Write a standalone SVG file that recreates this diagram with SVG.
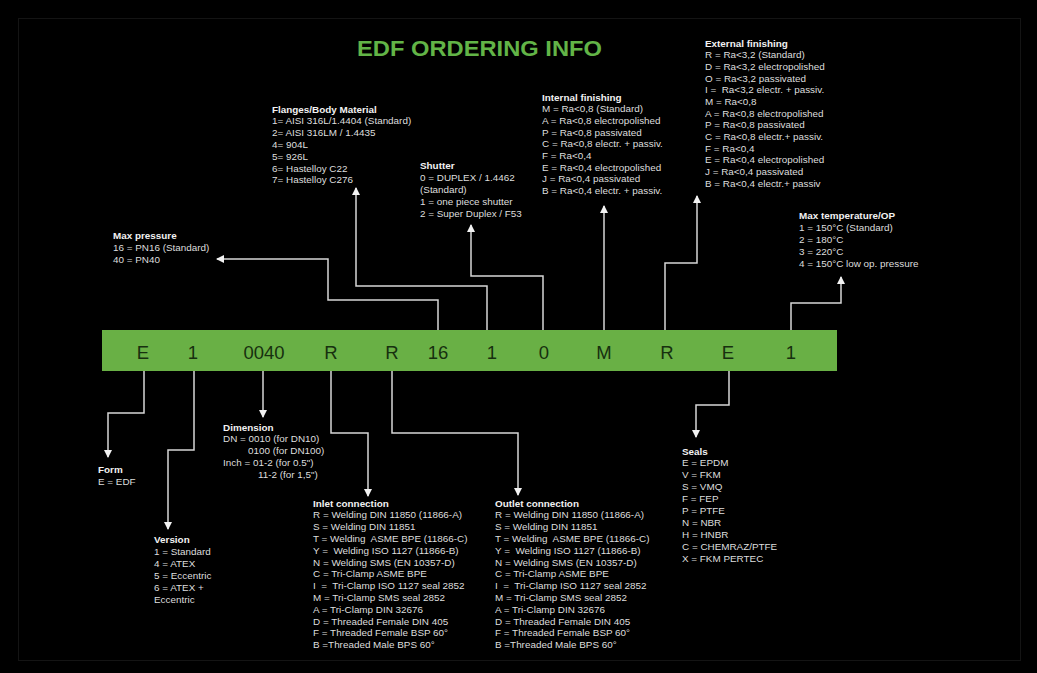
<svg xmlns="http://www.w3.org/2000/svg" width="1037" height="673" viewBox="0 0 1037 673">
  <style>
    .title { font-family: "Liberation Sans", Arial, sans-serif; font-weight: bold; font-size: 22.5px; fill: #62b447; }
    .code { font-family: "Liberation Sans", Arial, sans-serif; font-size: 18.5px; fill: #17300f; text-anchor: middle; }
    .lbl { font-family: "Liberation Sans", Arial, sans-serif; font-size: 9.9px; fill: #dedede; white-space: pre; }
    .lbl .h { font-weight: bold; fill: #f2f2f2; }
    .wire { fill: none; stroke: #d6d6d6; stroke-width: 1.5; }
  </style>
  <defs>
    <marker id="arrow" viewBox="0 0 8 8" refX="7" refY="4" markerWidth="8" markerHeight="8" markerUnits="userSpaceOnUse" orient="auto">
      <path d="M0,0 L8,4 L0,8 z" fill="#f2f2f2"/>
    </marker>
  </defs>

  <rect width="1037" height="673" fill="#000"/>
  <rect x="18.5" y="18.5" width="1002" height="642" fill="none" stroke="#141414" stroke-width="1"/>

  <text class="title" x="357" y="56" textLength="245" lengthAdjust="spacingAndGlyphs">EDF ORDERING INFO</text>

  <!-- code bar -->
  <g id="code-bar">
    <rect x="102" y="330" width="735" height="41" fill="#69b045"/>
    <text class="code" x="143" y="359">E</text>
    <text class="code" x="193" y="359">1</text>
    <text class="code" x="264" y="359">0040</text>
    <text class="code" x="331" y="359">R</text>
    <text class="code" x="392" y="359">R</text>
    <text class="code" x="438" y="359">16</text>
    <text class="code" x="492" y="359">1</text>
    <text class="code" x="544" y="359">0</text>
    <text class="code" x="604" y="359">M</text>
    <text class="code" x="667" y="359">R</text>
    <text class="code" x="728" y="359">E</text>
    <text class="code" x="791" y="359">1</text>
  </g>

  <!-- connectors -->
  <g id="connectors">
    <path class="wire" d="M438,330 V300 H328 V259 H217" marker-end="url(#arrow)"/>
    <path class="wire" d="M487,330 V286 H356 V188" marker-end="url(#arrow)"/>
    <path class="wire" d="M543,330 V276 H471 V225" marker-end="url(#arrow)"/>
    <path class="wire" d="M604,330 V206" marker-end="url(#arrow)"/>
    <path class="wire" d="M665,330 V263 H697 V196" marker-end="url(#arrow)"/>
    <path class="wire" d="M791,330 V303 H841 V277" marker-end="url(#arrow)"/>
    <path class="wire" d="M144,371 V413 H108 V457" marker-end="url(#arrow)"/>
    <path class="wire" d="M194,371 V450 H168 V529" marker-end="url(#arrow)"/>
    <path class="wire" d="M263,371 V417" marker-end="url(#arrow)"/>
    <path class="wire" d="M331,371 V433 H368 V496" marker-end="url(#arrow)"/>
    <path class="wire" d="M392,371 V433 H518 V495" marker-end="url(#arrow)"/>
    <path class="wire" d="M729,371 V405 H696 V437" marker-end="url(#arrow)"/>
  </g>

  <g id="max-pressure">
    <text class="lbl" x="113" y="239"><tspan class="h">Max pressure</tspan><tspan x="113" dy="12">16 = PN16 (Standard)</tspan><tspan x="113" dy="12">40 = PN40</tspan></text>
  </g>

  <g id="flanges">
    <text class="lbl" x="272" y="112.5"><tspan class="h">Flanges/Body Material</tspan><tspan x="272" dy="11.8">1= AISI 316L/1.4404 (Standard)</tspan><tspan x="272" dy="11.8">2= AISI 316LM / 1.4435</tspan><tspan x="272" dy="11.8">4= 904L</tspan><tspan x="272" dy="11.8">5= 926L</tspan><tspan x="272" dy="11.8">6= Hastelloy C22</tspan><tspan x="272" dy="11.8">7= Hastelloy C276</tspan></text>
  </g>

  <g id="shutter">
    <text class="lbl" x="420" y="168.5"><tspan class="h">Shutter</tspan><tspan x="420" dy="12">0 = DUPLEX / 1.4462</tspan><tspan x="420" dy="12">(Standard)</tspan><tspan x="420" dy="12">1 = one piece shutter</tspan><tspan x="420" dy="12">2 = Super Duplex / F53</tspan></text>
  </g>

  <g id="internal-finishing">
    <text class="lbl" x="542" y="100.5"><tspan class="h">Internal finishing</tspan><tspan x="542" dy="11.7">M = Ra&lt;0,8 (Standard)</tspan><tspan x="542" dy="11.7">A = Ra&lt;0,8 electropolished</tspan><tspan x="542" dy="11.7">P = Ra&lt;0,8 passivated</tspan><tspan x="542" dy="11.7">C = Ra&lt;0,8 electr. + passiv.</tspan><tspan x="542" dy="11.7">F = Ra&lt;0,4</tspan><tspan x="542" dy="11.7">E = Ra&lt;0,4 electropolished</tspan><tspan x="542" dy="11.7">J = Ra&lt;0,4 passivated</tspan><tspan x="542" dy="11.7">B = Ra&lt;0,4 electr. + passiv.</tspan></text>
  </g>

  <g id="external-finishing">
    <text class="lbl" x="705" y="46.5"><tspan class="h">External finishing</tspan><tspan x="705" dy="11.7">R = Ra&lt;3,2 (Standard)</tspan><tspan x="705" dy="11.7">D = Ra&lt;3,2 electropolished</tspan><tspan x="705" dy="11.7">O = Ra&lt;3,2 passivated</tspan><tspan x="705" dy="11.7">I =  Ra&lt;3,2 electr. + passiv.</tspan><tspan x="705" dy="11.7">M = Ra&lt;0,8</tspan><tspan x="705" dy="11.7">A = Ra&lt;0,8 electropolished</tspan><tspan x="705" dy="11.7">P = Ra&lt;0,8 passivated</tspan><tspan x="705" dy="11.7">C = Ra&lt;0,8 electr.+ passiv.</tspan><tspan x="705" dy="11.7">F = Ra&lt;0,4</tspan><tspan x="705" dy="11.7">E = Ra&lt;0,4 electropolished</tspan><tspan x="705" dy="11.7">J = Ra&lt;0,4 passivated</tspan><tspan x="705" dy="11.7">B = Ra&lt;0,4 electr.+ passiv</tspan></text>
  </g>

  <g id="max-temperature">
    <text class="lbl" x="799" y="218.5"><tspan class="h">Max temperature/OP</tspan><tspan x="799" dy="12">1 = 150°C (Standard)</tspan><tspan x="799" dy="12">2 = 180°C</tspan><tspan x="799" dy="12">3 = 220°C</tspan><tspan x="799" dy="12">4 = 150°C low op. pressure</tspan></text>
  </g>

  <g id="form">
    <text class="lbl" x="98" y="473"><tspan class="h">Form</tspan><tspan x="98" dy="12">E = EDF</tspan></text>
  </g>

  <g id="version">
    <text class="lbl" x="154" y="542.5"><tspan class="h">Version</tspan><tspan x="154" dy="12">1 = Standard</tspan><tspan x="154" dy="12">4 = ATEX</tspan><tspan x="154" dy="12">5 = Eccentric</tspan><tspan x="154" dy="12">6 = ATEX +</tspan><tspan x="154" dy="12">Eccentric</tspan></text>
  </g>

  <g id="dimension">
    <text class="lbl" x="223" y="430.5"><tspan class="h">Dimension</tspan><tspan x="223" dy="11.8">DN = 0010 (for DN10)</tspan><tspan x="248" dy="11.8">0100 (for DN100)</tspan><tspan x="223" dy="11.8">Inch = 01-2 (for 0.5")</tspan><tspan x="258" dy="11.8">11-2 (for 1,5")</tspan></text>
  </g>

  <g id="inlet-connection">
    <text class="lbl" x="313" y="506.5"><tspan class="h">Inlet connection</tspan><tspan x="313" dy="11.8">R = Welding DIN 11850 (11866-A)</tspan><tspan x="313" dy="11.8">S = Welding DIN 11851</tspan><tspan x="313" dy="11.8">T = Welding  ASME BPE (11866-C)</tspan><tspan x="313" dy="11.8">Y =  Welding ISO 1127 (11866-B)</tspan><tspan x="313" dy="11.8">N = Welding SMS (EN 10357-D)</tspan><tspan x="313" dy="11.8">C = Tri-Clamp ASME BPE</tspan><tspan x="313" dy="11.8">I  =  Tri-Clamp ISO 1127 seal 2852</tspan><tspan x="313" dy="11.8">M = Tri-Clamp SMS seal 2852</tspan><tspan x="313" dy="11.8">A = Tri-Clamp DIN 32676</tspan><tspan x="313" dy="11.8">D = Threaded Female DIN 405</tspan><tspan x="313" dy="11.8">F = Threaded Female BSP 60°</tspan><tspan x="313" dy="11.8">B =Threaded Male BPS 60°</tspan></text>
  </g>

  <g id="outlet-connection">
    <text class="lbl" x="495" y="506.5"><tspan class="h">Outlet connection</tspan><tspan x="495" dy="11.8">R = Welding DIN 11850 (11866-A)</tspan><tspan x="495" dy="11.8">S = Welding DIN 11851</tspan><tspan x="495" dy="11.8">T = Welding  ASME BPE (11866-C)</tspan><tspan x="495" dy="11.8">Y =  Welding ISO 1127 (11866-B)</tspan><tspan x="495" dy="11.8">N = Welding SMS (EN 10357-D)</tspan><tspan x="495" dy="11.8">C = Tri-Clamp ASME BPE</tspan><tspan x="495" dy="11.8">I  =  Tri-Clamp ISO 1127 seal 2852</tspan><tspan x="495" dy="11.8">M = Tri-Clamp SMS seal 2852</tspan><tspan x="495" dy="11.8">A = Tri-Clamp DIN 32676</tspan><tspan x="495" dy="11.8">D = Threaded Female DIN 405</tspan><tspan x="495" dy="11.8">F = Threaded Female BSP 60°</tspan><tspan x="495" dy="11.8">B =Threaded Male BPS 60°</tspan></text>
  </g>

  <g id="seals">
    <text class="lbl" x="682" y="454.5"><tspan class="h">Seals</tspan><tspan x="682" dy="11.9">E = EPDM</tspan><tspan x="682" dy="11.9">V = FKM</tspan><tspan x="682" dy="11.9">S = VMQ</tspan><tspan x="682" dy="11.9">F = FEP</tspan><tspan x="682" dy="11.9">P = PTFE</tspan><tspan x="682" dy="11.9">N = NBR</tspan><tspan x="682" dy="11.9">H = HNBR</tspan><tspan x="682" dy="11.9">C = CHEMRAZ/PTFE</tspan><tspan x="682" dy="11.9">X = FKM PERTEC</tspan></text>
  </g>
</svg>
